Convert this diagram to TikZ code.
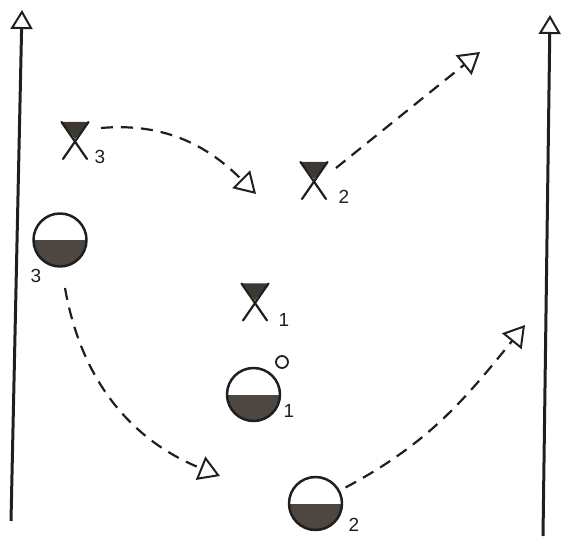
\documentclass[tikz,border=0pt]{standalone}
\usepackage{fontspec}
\setmainfont{Liberation Sans}
\usepackage{tikz}
\usetikzlibrary{arrows.meta}

\begin{document}
\begin{tikzpicture}[x=1pt, y=1pt, line join=round,
    every node/.style={font=\fontsize{19}{19}\selectfont, text=ink, inner sep=0pt},
    wing/.style={draw=ink, line width=3pt, -{Triangle[open, length=19pt, width=22pt, line width=2pt]}},
    run/.style={draw=ink, line width=2.2pt, dash pattern=on 12pt off 8pt, -{Triangle[open, length=21pt, width=25pt, line width=2pt]}},
    attacker/.style={circle, draw=ink, line width=2.5pt, minimum size=53pt,
      path picture={\fill[halffill] (path picture bounding box.west) rectangle (path picture bounding box.south east);}},
    defender/.style={minimum width=34pt, minimum height=44pt,
      path picture={\begin{scope}[shift={(path picture bounding box.center)}]
        \fill[halffill!80!black] (-13.5,19) -- (13.5,19) -- (0,2) -- cycle;
        \draw[ink, line width=2.2pt, line cap=round] (-13.5,19) -- (12,-18) (13.5,19) -- (-12,-18);
      \end{scope}}}]
      \colorlet{ink}{black!88} \definecolor{halffill}{RGB}{78,70,64}
      \useasboundingbox (0,0) rectangle (564,541);
      % touchlines
      \coordinate (lbot) at (11,20); \coordinate (ltop) at (22,531);
      \coordinate (rbot) at (543,5); \coordinate (rtop) at (550,526);
      \draw[wing] (lbot) -- (ltop);
      \draw[wing] (rbot) -- (rtop);
      % defenders
      \node[defender] (d3) at (75,400) {};
      \node[defender] (d2) at (314,360) {};
      \node[defender] (d1) at (255,238.5) {};
      \node (n3) at (100,384) {3};
      \node (n2) at (344,344) {2};
      \node (n1) at (284,221) {1};
      % attackers
      \node[attacker] (a3) at (60,301) {};
      \node[attacker] (a1) at (253.5,146.5) {};
      \node[attacker] (a2) at (315.5,37.5) {};
      \node (m3) at (36,265) {3};
      \node (m1) at (289,130) {1};
      \node (m2) at (354,16) {2};
      \node[circle, draw=ink, line width=1.8pt, minimum size=12pt] (ball) at (282,179) {};
      % runs
      \coordinate (t3) at (256,347); \coordinate (t2) at (480,489);
      \coordinate (s3) at (220,65); \coordinate (s2) at (525,216);
      \draw[run] ([shift={(26,13)}]d3.center) to[out=5, in=135] (t3);
      \draw[run] ([shift={(22,13)}]d2.center) -- (t2);
      \draw[run] ([shift={(5,-48)}]a3.center) to[out=-80, in=158] (s3);
      \draw[run] ([shift={(30,16)}]a2.center) to[out=28, in=231] (s2);
    \end{tikzpicture}
\end{document}
